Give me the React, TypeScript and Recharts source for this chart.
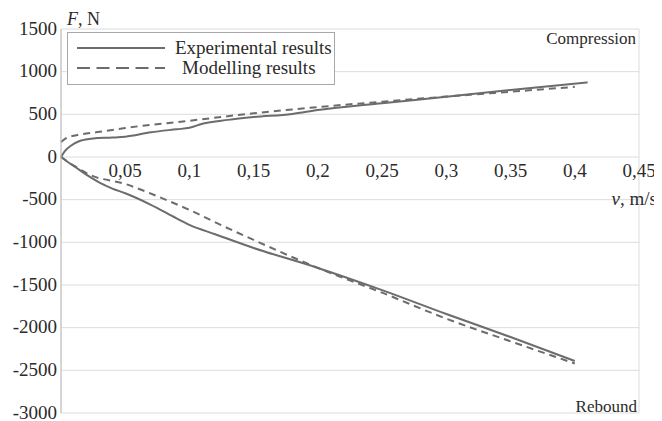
import {
  LineChart,
  Line,
  XAxis,
  YAxis,
  CartesianGrid,
  ReferenceDot,
  Legend,
} from "recharts";

// velocity v (m/s) vs force F (N)
const expUpper = [
  { v: 0, f: 0 },
  { v: 0.003, f: 70 },
  { v: 0.008, f: 135 },
  { v: 0.015, f: 190 },
  { v: 0.025, f: 218 },
  { v: 0.04, f: 228 },
  { v: 0.05, f: 238 },
  { v: 0.07, f: 290 },
  { v: 0.09, f: 325 },
  { v: 0.1, f: 342 },
  { v: 0.11, f: 390 },
  { v: 0.13, f: 435 },
  { v: 0.15, f: 468 },
  { v: 0.18, f: 505 },
  { v: 0.2, f: 550 },
  { v: 0.25, f: 630 },
  { v: 0.3, f: 705 },
  { v: 0.35, f: 785 },
  { v: 0.41, f: 875 },
];

const expLower = [
  { v: 0, f: 0 },
  { v: 0.005, f: -55 },
  { v: 0.011, f: -117 },
  { v: 0.02, f: -210 },
  { v: 0.03, f: -300 },
  { v: 0.04, f: -370 },
  { v: 0.05, f: -425 },
  { v: 0.07, f: -560 },
  { v: 0.09, f: -720 },
  { v: 0.1, f: -796 },
  { v: 0.12, f: -905 },
  { v: 0.15, f: -1066 },
  { v: 0.2, f: -1300 },
  { v: 0.25, f: -1560 },
  { v: 0.3, f: -1840 },
  { v: 0.35, f: -2110 },
  { v: 0.4, f: -2390 },
];

const modUpper = [
  { v: 0, f: 175 },
  { v: 0.004, f: 220 },
  { v: 0.012, f: 255 },
  { v: 0.03, f: 295 },
  { v: 0.05, f: 340 },
  { v: 0.1, f: 425 },
  { v: 0.15, f: 512 },
  { v: 0.2, f: 585 },
  { v: 0.25, f: 648 },
  { v: 0.3, f: 708 },
  { v: 0.35, f: 765 },
  { v: 0.4, f: 822 },
];

const modLower = [
  { v: 0, f: 0 },
  { v: 0.01, f: -100 },
  { v: 0.022, f: -205 },
  { v: 0.05, f: -316 },
  { v: 0.075, f: -460 },
  { v: 0.1, f: -620 },
  { v: 0.125, f: -800 },
  { v: 0.15, f: -972 },
  { v: 0.2, f: -1300 },
  { v: 0.25, f: -1590 },
  { v: 0.3, f: -1895 },
  { v: 0.35, f: -2160 },
  { v: 0.4, f: -2420 },
];

const xTicks = [0, 0.05, 0.1, 0.15, 0.2, 0.25, 0.3, 0.35, 0.4, 0.45];
const yTicks = [-3000, -2500, -2000, -1500, -1000, -500, 0, 500, 1000, 1500];
const legendNames = ["Experimental results", "Modelling results"];

const FONT = "Liberation Serif";
const LINE_COLOR = "#6c6c6c";
const TEXT_COLOR = "#2b2b2b";
const textStyle = { fontFamily: FONT, fill: TEXT_COLOR };

const fmt = (n: number) => String(n).replace(".", ",");

const YTick = ({ x, y, payload }: any) => (
  <text x={x} y={y} dy={5.5} textAnchor="end" fontSize={19} fontFamily={FONT} style={textStyle}>
    {payload.value}
  </text>
);

// x tick labels sit just under the F = 0 line
const XLabel = ({ viewBox, value }: any) => (
  <text
    x={viewBox.x + viewBox.width / 2}
    y={viewBox.y + viewBox.height + 20}
    textAnchor="middle"
    fontSize={19}
    fontFamily={FONT}
    style={textStyle}
  >
    {value}
  </text>
);

const LegendBox = () => (
  <svg width={268} height={53} style={{ display: "block" }}>
    <rect x={0.5} y={0.5} width={267} height={52} fill="#fff" stroke="#a8a8a8" />
    <line x1={10} y1={16} x2={98} y2={16} stroke={LINE_COLOR} strokeWidth={2} />
    <line x1={10} y1={36} x2={98} y2={36} stroke={LINE_COLOR} strokeWidth={2} strokeDasharray="13 6.5" />
    <text x={108} y={22} fontSize={19} style={textStyle}>
      {legendNames[0]}
    </text>
    <text x={115} y={42} fontSize={19} style={textStyle}>
      {legendNames[1]}
    </text>
  </svg>
);

export default function App() {
  return (
    <div style={{ position: "relative", width: 654, height: 413, fontFamily: FONT }}>
      <LineChart
        width={654}
        height={413}
        margin={{ top: 21, right: 23, bottom: 8, left: 0 }}
        style={{ overflow: "visible" }}
      >
        <CartesianGrid stroke="#dcdcdc" strokeWidth={1} />
        <XAxis
          dataKey="v"
          type="number"
          domain={[0, 0.45]}
          ticks={xTicks}
          height={0}
          tick={false}
          axisLine={false}
          tickLine={false}
        />
        <YAxis
          type="number"
          domain={[-3000, 1500]}
          ticks={yTicks}
          interval={0}
          width={53}
          tickSize={0}
          tickMargin={4}
          axisLine={{ stroke: "#bdbdbd" }}
          tickLine={false}
          tick={<YTick />}
        />
        <Legend
          layout="horizontal"
          verticalAlign="middle"
          align="center"
          wrapperStyle={{ left: 59, top: 24, width: 268, height: 53 }}
          content={() => <LegendBox />}
        />
        {xTicks
          .filter((t) => t > 0)
          .map((t) => (
            <ReferenceDot
              key={t}
              x={t}
              y={0}
              r={0}
              fill="none"
              stroke="none"
              label={<XLabel value={fmt(t)} />}
            />
          ))}
        <Line data={expUpper} dataKey="f" type="monotone" stroke={LINE_COLOR} strokeWidth={2} dot={false} isAnimationActive={false} legendType="none" />
        <Line data={expLower} dataKey="f" type="monotone" stroke={LINE_COLOR} strokeWidth={2} dot={false} isAnimationActive={false} legendType="none" />
        <Line data={modUpper} dataKey="f" type="monotone" stroke={LINE_COLOR} strokeWidth={2} strokeDasharray="7 5" dot={false} isAnimationActive={false} legendType="none" />
        <Line data={modLower} dataKey="f" type="monotone" stroke={LINE_COLOR} strokeWidth={2} strokeDasharray="7 5" dot={false} isAnimationActive={false} legendType="none" />
      </LineChart>
      <svg
        width={654}
        height={413}
        style={{ position: "absolute", left: 0, top: 0, pointerEvents: "none" }}
      >
        <text x={59} y={17} fontSize={18} style={textStyle}>
          <tspan fontStyle="italic">F</tspan>, N
        </text>
        <text x={628} y={36} textAnchor="end" fontSize={17} style={textStyle}>
          Compression
        </text>
        <text x={649} y={197} textAnchor="end" fontSize={19} style={textStyle}>
          <tspan fontStyle="italic">v</tspan>, m/s
        </text>
        <text x={629} y={404} textAnchor="end" fontSize={17} style={textStyle}>
          Rebound
        </text>
      </svg>
    </div>
  );
}
